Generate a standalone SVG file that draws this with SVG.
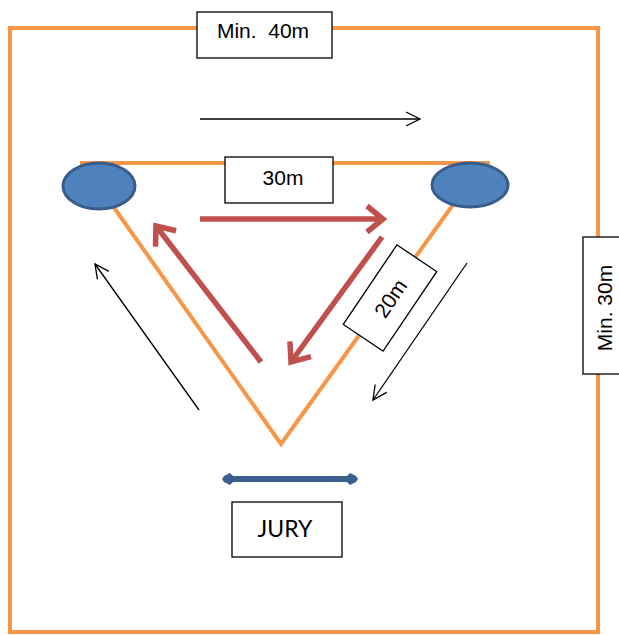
<svg xmlns="http://www.w3.org/2000/svg" width="619" height="635" viewBox="0 0 619 635">
<style>
.orange{fill:none;stroke:#f79646;stroke-width:4}
.box{fill:#fff;stroke:#000;stroke-width:1.3}
.lbl{font-family:"Liberation Sans",Arial,sans-serif;font-size:21px;fill:#000;text-anchor:middle}
.thin{fill:none;stroke:#000;stroke-width:1.3}
.red{fill:none;stroke:#c0504d;stroke-width:5.5;stroke-linecap:butt}
.cone{fill:#4f81bd;stroke:#385d8a;stroke-width:3}
</style>
<defs>
<marker id="open" markerWidth="20" markerHeight="20" refX="16" refY="8" orient="auto" markerUnits="userSpaceOnUse" viewBox="0 0 20 16">
<path d="M2,1 L16,8 L2,15" fill="none" stroke="#000" stroke-width="1.3"/>
</marker>
<marker id="redhead" markerWidth="26" markerHeight="32" refX="21" refY="16" orient="auto" markerUnits="userSpaceOnUse" viewBox="0 0 26 32">
<path d="M5,3 L21,16 L5,29" fill="none" stroke="#c0504d" stroke-width="5.5"/>
</marker>
<marker id="bluehead" markerWidth="16" markerHeight="16" refX="12" refY="8" orient="auto-start-reverse" markerUnits="userSpaceOnUse" viewBox="0 0 16 16">
<path d="M0,8 L6,2 L12,5 L14,8 L12,11 L6,14 Z" fill="#3c5f8f"/>
</marker>
</defs>

<g id="field">
<rect class="orange" x="10" y="28" width="588" height="604"/>
</g>

<g id="course">
<polyline class="orange" points="80,163 490,163"/>
<polyline class="orange" points="110,202 281,444 455,202"/>
</g>

<g id="cone-left"><ellipse class="cone" cx="99" cy="186" rx="36" ry="23"/></g>
<g id="cone-right"><ellipse class="cone" cx="470" cy="185" rx="38" ry="22"/></g>

<g id="label-40m">
<rect class="box" x="197" y="12" width="135" height="46"/>
<text class="lbl" x="263" y="38">Min.&#160; 40m</text>
</g>

<g id="label-30m">
<rect class="box" x="225" y="157" width="108" height="46"/>
<text class="lbl" x="283" y="185">30m</text>
</g>

<g id="label-20m" transform="translate(390,298) rotate(-56)">
<rect class="box" x="-48" y="-24" width="96" height="48"/>
<text class="lbl" x="0" y="8">20m</text>
</g>

<g id="label-min30m">
<rect class="box" x="583" y="237" width="38" height="137"/>
<text class="lbl" transform="translate(612,308) rotate(-90)" x="0" y="0">Min. 30m</text>
</g>

<g id="jury">
<rect class="box" x="232" y="502" width="110" height="55"/>
<text x="285" y="537" font-family="Lato,'Open Sans',sans-serif" font-size="23" text-anchor="middle" fill="#000">JURY</text>
</g>

<g id="connectors">
<line class="thin" x1="200" y1="119" x2="420" y2="119" marker-end="url(#open)"/>
<line class="thin" x1="467" y1="263" x2="373" y2="400" marker-end="url(#open)"/>
<line class="thin" x1="199" y1="410" x2="95" y2="264" marker-end="url(#open)"/>
<line class="red" x1="200" y1="219" x2="383" y2="219" marker-end="url(#redhead)"/>
<line class="red" x1="382" y1="237" x2="291" y2="362" marker-end="url(#redhead)"/>
<line class="red" x1="261" y1="362" x2="156" y2="226" marker-end="url(#redhead)"/>
<line x1="224" y1="479" x2="356" y2="479" stroke="#3c5f8f" stroke-width="6" marker-start="url(#bluehead)" marker-end="url(#bluehead)"/>
</g>
</svg>
